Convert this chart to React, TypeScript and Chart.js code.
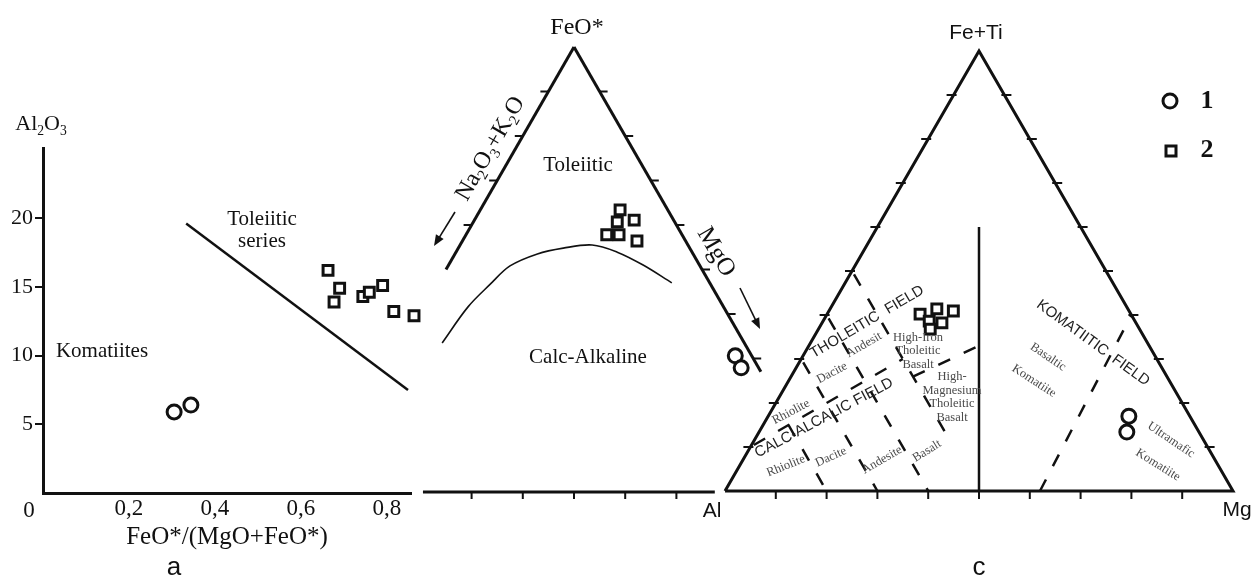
import React, { useEffect, useRef } from "react";
import { Chart, registerables } from "chart.js";

Chart.register(...registerables);

const SERIF = "'Liberation Serif', 'Times New Roman', serif";
const SANS = "'Liberation Sans', Arial, sans-serif";
const INK = "#111111";
const GREY = "#4a4a4a";

// ---------------- Panel a : Al2O3 vs FeO*/(MgO+FeO*) ----------------
const aXTicks = [0.2, 0.4, 0.6, 0.8];
const aYTicks = [5, 10, 15, 20];
const aCircleX = [0.305, 0.344];
const aCircleY = [5.9, 6.4];
const aSquareX = [0.663, 0.69, 0.677, 0.744, 0.759, 0.79, 0.816, 0.863];
const aSquareY = [16.2, 14.9, 13.9, 14.3, 14.6, 15.1, 13.2, 12.9];
const aDividerX = [0.333, 0.849];
const aDividerY = [19.6, 7.5];

// ---------------- Panel b : AFM (FeO* top, MgO right, %) ----------------
const bCurveF = [33.5, 41.6, 46.7, 50.8, 53.5, 54.8, 55.5, 53.9, 51.0, 47.0];
const bCurveM = [7.5, 8.5, 10.3, 12.1, 16.1, 20.5, 25.8, 31.5, 38.0, 45.6];
const bSquareF = [63.4, 60.7, 61.1, 57.8, 57.8, 56.4];
const bSquareM = [27.3, 28.1, 31.2, 27.5, 29.9, 34.1];
const bCircleF = [30.6, 27.9];
const bCircleM = [66.2, 68.7];
const bLeftTicks = [90, 80, 70, 60];
const bRightTicks = [90, 80, 70, 60, 50, 40, 30];
const bBaseTicks = [30, 40, 50, 60, 70];

// ---------------- Panel c : Jensen cation plot (Fe+Ti top, Mg right, %) ----------------
const cSquareT = [40.2, 41.4, 40.9, 38.6, 38.2, 36.8];
const cSquareMg = [18.3, 21.0, 24.5, 20.9, 23.6, 22.0];
const cCircleT = [17.0, 13.4];
const cCircleMg = [71.0, 72.4];
const cThCaT = [10, 30];
const cThCaMg = [0, 20];
const cHfeHmgT = [26, 33];
const cHfeHmgMg = [24, 33.5];
const cAl50T = [50, 13];
const cAl50Mg = [0, 37];
const cAl60T = [40, 0];
const cAl60Mg = [0, 40];
const cAl70T = [30, 0];
const cAl70Mg = [0, 30];
const cAl80T = [15, 0];
const cAl80Mg = [5, 20];
const cKomT = [0, 40];
const cKomMg = [62, 60];
const cSolidT = [0, 60];
const cSolidMg = [50, 20];
const cTicks = [10, 20, 30, 40, 50, 60, 70, 80, 90];

// ---------------- layout (page pixels) ----------------
const A_BOX = { left: 0, top: 90, width: 440, height: 487 };
const B_BOX = { left: 300, top: 0, width: 560, height: 520 };
const B_MAP = { x0: 318, x1: 830, y0: 492, y1: 47 };
const C_BOX = { left: 690, top: 0, width: 563, height: 577 };
const C_MAP = { x0: 725, x1: 1233, y0: 491, y1: 51 };

// ternary (top %, right %) -> cartesian
const tern = (top: number, right: number) => ({ x: (right + top / 2) / 100, y: top / 100 });
const zipT = (tops: number[], rights: number[]) => tops.map((t, i) => tern(t, rights[i]));
const zipXY = (xs: number[], ys: number[]) => xs.map((x, i) => ({ x, y: ys[i] }));

function txt(ctx: any, s: string, x: number, y: number, font: string, color = INK, angle = 0, align = "center") {
  ctx.save();
  ctx.translate(x, y);
  ctx.rotate((angle * Math.PI) / 180);
  ctx.font = font;
  ctx.fillStyle = color;
  ctx.textAlign = align;
  ctx.textBaseline = "middle";
  ctx.fillText(s, 0, 0);
  ctx.restore();
}

function rich(ctx: any, parts: [string, boolean][], x: number, y: number, size: number, angle = 0) {
  ctx.save();
  ctx.translate(x, y);
  ctx.rotate((angle * Math.PI) / 180);
  ctx.fillStyle = INK;
  ctx.textAlign = "left";
  ctx.textBaseline = "alphabetic";
  const sub = size * 0.62;
  const widths = parts.map(([t, s]) => {
    ctx.font = `${s ? sub : size}px ${SERIF}`;
    return ctx.measureText(t).width;
  });
  const total = widths.reduce((a, b) => a + b, 0);
  let cur = -total / 2;
  const base = size * 0.33;
  parts.forEach(([t, s], i) => {
    ctx.font = `${s ? sub : size}px ${SERIF}`;
    ctx.fillText(t, cur, s ? base + size * 0.2 : base);
    cur += widths[i];
  });
  ctx.restore();
}

function arrow(ctx: any, x1: number, y1: number, x2: number, y2: number) {
  const a = Math.atan2(y2 - y1, x2 - x1);
  const L = 11, W = 4.5;
  ctx.save();
  ctx.strokeStyle = INK;
  ctx.fillStyle = INK;
  ctx.lineWidth = 1.6;
  ctx.beginPath();
  ctx.moveTo(x1, y1);
  ctx.lineTo(x2 - L * 0.6 * Math.cos(a), y2 - L * 0.6 * Math.sin(a));
  ctx.stroke();
  ctx.beginPath();
  ctx.moveTo(x2, y2);
  ctx.lineTo(x2 - L * Math.cos(a) + W * Math.sin(a), y2 - L * Math.sin(a) - W * Math.cos(a));
  ctx.lineTo(x2 - L * Math.cos(a) - W * Math.sin(a), y2 - L * Math.sin(a) + W * Math.cos(a));
  ctx.closePath();
  ctx.fill();
  ctx.restore();
}

function ticks(chart: any, pts: { x: number; y: number }[], dx1: number, dy1: number, dx2: number, dy2: number) {
  const ctx = chart.ctx;
  const sx = chart.scales.x, sy = chart.scales.y;
  ctx.save();
  ctx.strokeStyle = INK;
  ctx.lineWidth = 2;
  ctx.beginPath();
  pts.forEach((p) => {
    const X = sx.getPixelForValue(p.x), Y = sy.getPixelForValue(p.y);
    ctx.moveTo(X + dx1, Y + dy1);
    ctx.lineTo(X + dx2, Y + dy2);
  });
  ctx.stroke();
  ctx.restore();
}

const lineDs = (data: any[], width = 3, dash: number[] = [], extra: any = {}) => ({
  data, showLine: true, borderColor: INK, borderWidth: width, borderDash: dash,
  pointRadius: 0, fill: false, clip: false, borderJoinStyle: "miter", ...extra,
});
const markDs = (data: any[], style: string, label: string) => ({
  label, data, showLine: false, pointStyle: style, pointRadius: 7, borderWidth: 3,
  borderColor: INK, backgroundColor: "#ffffff", clip: false,
});

const baseOptions = {
  responsive: false, animation: false, events: [],
  plugins: { legend: { display: false }, tooltip: { enabled: false } },
};

// ---------------- chart a ----------------
function makeA(box: any) {
  const L = (px: number, py: number) => [px - box.left, py - box.top];
  return {
    type: "scatter",
    data: {
      datasets: [
        lineDs(zipXY(aDividerX, aDividerY), 2.5),
        markDs(zipXY(aCircleX, aCircleY), "circle", "1"),
        markDs(zipXY(aSquareX, aSquareY), "rect", "2"),
      ],
    },
    options: {
      ...baseOptions,
      layout: { autoPadding: false, padding: { left: 0, right: 29, top: 58, bottom: 24 } },
      scales: {
        x: {
          type: "linear", min: 0, max: 0.856,
          afterBuildTicks: (s: any) => { s.ticks = aXTicks.map((v) => ({ value: v })); },
          afterFit: (s: any) => { s.height = 60; },
          grid: { display: false, drawTicks: false },
          border: { display: true, color: INK, width: 3 },
          ticks: {
            padding: 2, color: INK, autoSkip: false, maxRotation: 0,
            font: { family: SERIF, size: 23 },
            callback: (v: number) => String(v).replace(".", ","),
          },
          title: {
            display: true, text: "FeO*/(MgO+FeO*)", color: INK,
            font: { family: SERIF, size: 25 }, padding: { top: 0, bottom: 1 },
          },
        },
        y: {
          type: "linear", min: 0, max: 25.1,
          afterBuildTicks: (s: any) => { s.ticks = aYTicks.map((v) => ({ value: v })); },
          afterFit: (s: any) => { s.width = 43; },
          grid: { display: true, drawOnChartArea: false, drawTicks: true, tickLength: 8, color: INK, lineWidth: 2 },
          border: { display: true, color: INK, width: 3 },
          ticks: { padding: 2, color: INK, font: { family: SERIF, size: 22 } },
        },
      },
    },
    plugins: [
      {
        id: "aText",
        afterDraw(chart: any) {
          const ctx = chart.ctx;
          const f = `21px ${SERIF}`;
          txt(ctx, "Toleiitic", ...L(262, 219), f);
          txt(ctx, "series", ...L(262, 241), f);
          txt(ctx, "Komatiites", ...L(102, 351), f);
          txt(ctx, "0", ...L(29, 511), `23px ${SERIF}`);
          rich(ctx, [["Al", false], ["2", true], ["O", false], ["3", true]], ...L(41, 123), 22);
          txt(ctx, "a", ...L(174, 568), `26px ${SANS}`);
        },
      },
    ],
  };
}

// ---------------- ternary factory ----------------
function makeTernary(box: any, map: any, datasets: any[], draw: (chart: any, L: any) => void) {
  const kx = map.x1 - map.x0;
  const ky = map.y1 - map.y0;
  const L = (px: number, py: number) => [px - box.left, py - box.top];
  return {
    type: "scatter",
    data: { datasets },
    options: {
      ...baseOptions,
      layout: { autoPadding: false, padding: 0 },
      scales: {
        x: { type: "linear", display: false, min: (box.left - map.x0) / kx, max: (box.left + box.width - map.x0) / kx },
        y: { type: "linear", display: false, min: (box.top + box.height - map.y0) / ky, max: (box.top - map.y0) / ky },
      },
    },
    plugins: [{ id: "deco", afterDatasetsDraw(chart: any) { draw(chart, L); } }],
  };
}

function makeB(box: any) {
  const datasets = [
    lineDs([tern(100, 0), tern(50, 0)], 3),
    lineDs([tern(100, 0), tern(27, 73)], 3),
    lineDs([tern(0, 20.5), tern(0, 77.5)], 3),
    lineDs(zipT(bCurveF, bCurveM), 1.6, [], { tension: 0.35 }),
    markDs(zipT(bSquareF, bSquareM), "rect", "2"),
    markDs(zipT(bCircleF, bCircleM), "circle", "1"),
  ];
  return makeTernary(box, B_MAP, datasets, (chart, L) => {
    const ctx = chart.ctx;
    ticks(chart, bLeftTicks.map((f) => tern(f, 0)), -8, 0, 0, 0);
    ticks(chart, bRightTicks.map((f) => tern(f, 100 - f)), 0, 0, 8, 0);
    ticks(chart, bBaseTicks.map((m) => tern(0, m)), 0, 0, 0, 7);
    txt(ctx, "FeO*", ...L(577, 28), `24px ${SERIF}`);
    txt(ctx, "Toleiitic", ...L(578, 165), `21px ${SERIF}`);
    txt(ctx, "Calc-Alkaline", ...L(588, 357), `21px ${SERIF}`);
    rich(ctx, [["Na", false], ["2", true], ["O", false], ["3", true], ["+K", false], ["2", true], ["O", false]], ...L(489, 148), 24, -60);
    txt(ctx, "MgO", ...L(716, 252), `25px ${SERIF}`, INK, 60);
    const [a1x, a1y] = L(455, 212), [a2x, a2y] = L(434, 246);
    arrow(ctx, a1x, a1y, a2x, a2y);
    const [m1x, m1y] = L(740, 288), [m2x, m2y] = L(760, 329);
    arrow(ctx, m1x, m1y, m2x, m2y);
    txt(ctx, "b", ...L(579, 566), `26px ${SANS}`);
  });
}

function makeC(box: any) {
  const dash = [13, 15];
  const late = { borderDashOffset: 24 };
  const datasets = [
    lineDs([tern(0, 0), tern(0, 100), tern(100, 0), tern(0, 0)], 3),
    lineDs(zipT(cSolidT, cSolidMg), 2.5),
    lineDs(zipT(cThCaT, cThCaMg), 2.5, dash, late),
    lineDs(zipT(cHfeHmgT, cHfeHmgMg), 2.5, dash),
    lineDs(zipT(cAl50T, cAl50Mg), 2.5, dash, late),
    lineDs(zipT(cAl60T, cAl60Mg), 2.5, dash, late),
    lineDs(zipT(cAl70T, cAl70Mg), 2.5, dash, late),
    lineDs(zipT(cAl80T, cAl80Mg), 2.5, dash),
    lineDs(zipT(cKomT, cKomMg), 2.5, dash),
    markDs(zipT(cSquareT, cSquareMg), "rect", "2"),
    markDs(zipT(cCircleT, cCircleMg), "circle", "1"),
  ];
  return makeTernary(box, C_MAP, datasets, (chart, L) => {
    const ctx = chart.ctx;
    ticks(chart, cTicks.map((t) => tern(t, 0)), -7, 0, 3, 0);
    ticks(chart, cTicks.map((t) => tern(t, 100 - t)), -3, 0, 7, 0);
    ticks(chart, cTicks.map((m) => tern(0, m)), 0, 0, 0, 8);
    const cap = `15px ${SANS}`;
    txt(ctx, "THOLEITIC  FIELD", ...L(867, 322), cap, "#222", -30.5);
    txt(ctx, "CALC-ALCALIC FIELD", ...L(824, 418), cap, "#222", -28);
    txt(ctx, "KOMATIITIC  FIELD", ...L(1093, 343), cap, "#222", 36);
    const g = `12.5px ${SERIF}`;
    txt(ctx, "Rhiolite", ...L(791, 412), g, GREY, -28);
    txt(ctx, "Dacite", ...L(832, 373), g, GREY, -28);
    txt(ctx, "Andesit", ...L(864, 345), g, GREY, -30);
    txt(ctx, "High-Iron", ...L(918, 338), g, GREY);
    txt(ctx, "Tholeitic", ...L(918, 351), g, GREY);
    txt(ctx, "Basalt", ...L(918, 365), g, GREY);
    txt(ctx, "High-", ...L(952, 377), g, GREY);
    txt(ctx, "Magnesium", ...L(952, 391), g, GREY);
    txt(ctx, "Tholeitic", ...L(952, 404), g, GREY);
    txt(ctx, "Basalt", ...L(952, 418), g, GREY);
    txt(ctx, "Rhiolite", ...L(786, 466), g, GREY, -22);
    txt(ctx, "Dacite", ...L(831, 457), g, GREY, -25);
    txt(ctx, "Andesite", ...L(882, 460), g, GREY, -30);
    txt(ctx, "Basalt", ...L(927, 451), g, GREY, -32);
    txt(ctx, "Basaltic", ...L(1048, 357), g, GREY, 34);
    txt(ctx, "Komatiite", ...L(1034, 381), g, GREY, 33);
    txt(ctx, "Ultramafic", ...L(1171, 440), g, GREY, 34);
    txt(ctx, "Komatiite", ...L(1158, 465), g, GREY, 32);
    const s = `21px ${SANS}`;
    txt(ctx, "Fe+Ti", ...L(976, 33), s);
    txt(ctx, "Al", ...L(712, 511), s);
    txt(ctx, "Mg", ...L(1237, 510), s);
    txt(ctx, "c", ...L(979, 568), `26px ${SANS}`);
    // legend
    const [c1x, c1y] = L(1170, 101);
    const [c2x, c2y] = L(1171, 151);
    ctx.save();
    ctx.strokeStyle = INK;
    ctx.fillStyle = "#fff";
    ctx.lineWidth = 3;
    ctx.beginPath();
    ctx.arc(c1x, c1y, 7, 0, Math.PI * 2);
    ctx.fill();
    ctx.stroke();
    ctx.beginPath();
    ctx.rect(c2x - 5, c2y - 5, 10, 10);
    ctx.fill();
    ctx.stroke();
    ctx.restore();
    txt(ctx, "1", ...L(1207, 101), `bold 26px ${SERIF}`);
    txt(ctx, "2", ...L(1207, 150), `bold 26px ${SERIF}`);
  });
}

function ChartCanvas({ box, make }: { box: any; make: (b: any) => any }) {
  const ref = useRef<HTMLCanvasElement | null>(null);
  useEffect(() => {
    const chart = new Chart(ref.current as HTMLCanvasElement, make(box));
    return () => chart.destroy();
  }, []);
  return (
    <canvas
      ref={ref}
      width={box.width}
      height={box.height}
      style={{ position: "absolute", left: box.left, top: box.top, width: box.width, height: box.height }}
    />
  );
}

export default function App() {
  return (
    <div style={{ position: "fixed", left: 0, top: 0, width: 1253, height: 577, background: "#ffffff", overflow: "hidden" }}>
      <ChartCanvas box={A_BOX} make={makeA} />
      <ChartCanvas box={C_BOX} make={makeC} />
      <ChartCanvas box={B_BOX} make={makeB} />
    </div>
  );
}
